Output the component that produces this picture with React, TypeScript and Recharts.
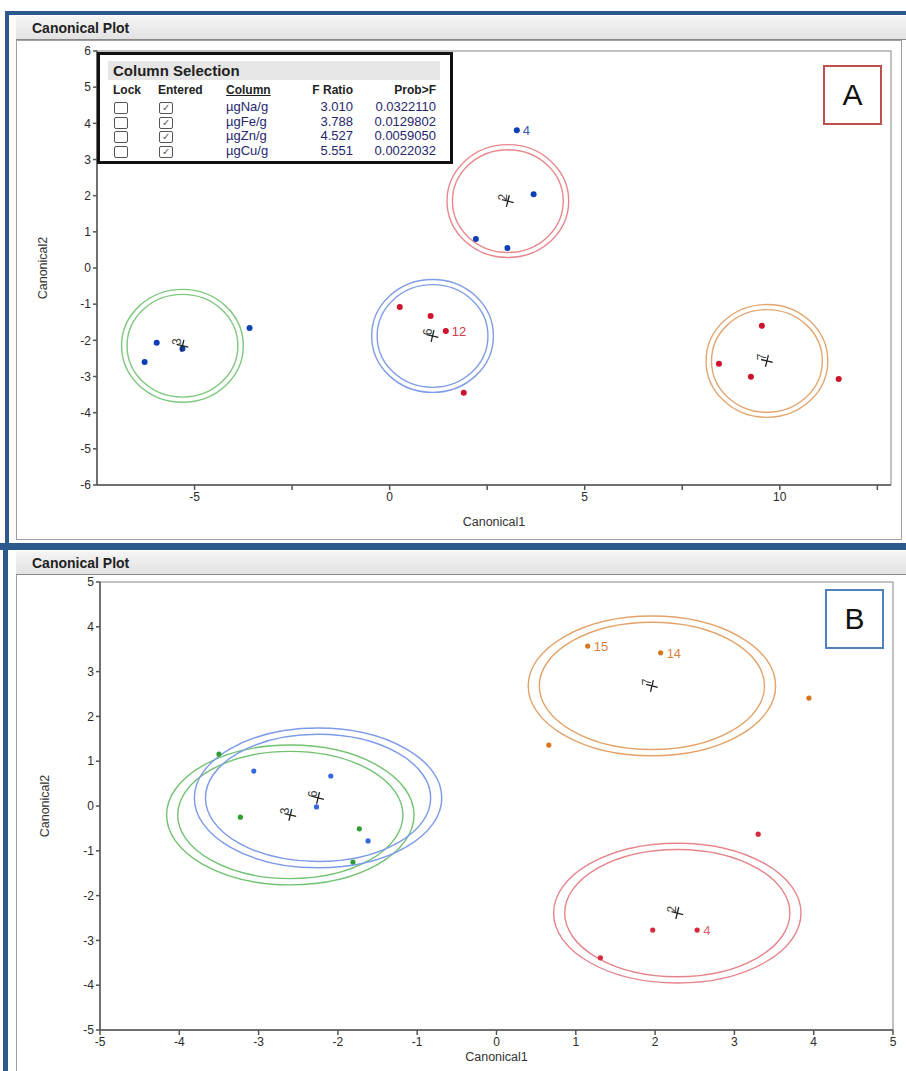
import React from "react";
import { ScatterChart, Scatter, XAxis, YAxis, ReferenceArea } from "recharts";

// ---- Panel A ----
const aBlue = [
  { x: 3.26, y: 3.81, label: "4" },
  { x: 3.69, y: 2.04 },
  { x: 2.21, y: 0.8 },
  { x: 3.02, y: 0.55 },
  { x: -3.59, y: -1.66 },
  { x: -5.97, y: -2.07 },
  { x: -6.28, y: -2.6 },
  { x: -5.31, y: -2.23 },
];
const aRed = [
  { x: 0.26, y: -1.08 },
  { x: 1.05, y: -1.33 },
  { x: 1.44, y: -1.74, label: "12" },
  { x: 1.9, y: -3.45 },
  { x: 9.54, y: -1.6 },
  { x: 8.44, y: -2.65 },
  { x: 9.26, y: -3.01 },
  { x: 11.51, y: -3.07 },
];
const aCenters = [
  { x: -5.31, y: -2.15, label: "3" },
  { x: 1.1, y: -1.88, label: "6" },
  { x: 3.03, y: 1.85, label: "2" },
  { x: 9.67, y: -2.57, label: "7" },
];
const aRingColors = ["#7cc87c", "#7f9de6", "#e8878d", "#e4a670"];
const aXTicks = [-5, -2.5, 0, 2.5, 5, 7.5, 10, 12.5];
const aYTicks = [-6, -5, -4, -3, -2, -1, 0, 1, 2, 3, 4, 5, 6];

// ---- Panel B ----
const bGreen = [
  { x: -3.5, y: 1.16 },
  { x: -3.23, y: -0.25 },
  { x: -1.73, y: -0.51 },
  { x: -1.81, y: -1.25 },
];
const bBlue = [
  { x: -3.06, y: 0.78 },
  { x: -2.09, y: 0.67 },
  { x: -2.27, y: -0.02 },
  { x: -1.62, y: -0.78 },
];
const bOrange = [
  { x: 1.15, y: 3.57, label: "15" },
  { x: 2.07, y: 3.42, label: "14" },
  { x: 3.94, y: 2.41 },
  { x: 0.66, y: 1.36 },
];
const bRed = [
  { x: 3.3, y: -0.63 },
  { x: 1.97, y: -2.77 },
  { x: 2.53, y: -2.77, label: "4" },
  { x: 1.31, y: -3.39 },
];
const bCenters = [
  { x: -2.6, y: -0.2, label: "3" },
  { x: -2.25, y: 0.18, label: "6" },
  { x: 1.96, y: 2.68, label: "7" },
  { x: 2.28, y: -2.39, label: "2" },
];
const bRingColors = ["#72c272", "#7b9be8", "#e3a268", "#e6848c"];
const bTicks = [-5, -4, -3, -2, -1, 0, 1, 2, 3, 4, 5];

// confidence ring radii (canonical units)
const ringOuter = 1.56;
const ringInner = 1.42;

const columnRows = [
  { col: "µgNa/g", f: "3.010", p: "0.0322110" },
  { col: "µgFe/g", f: "3.788", p: "0.0129802" },
  { col: "µgZn/g", f: "4.527", p: "0.0059050" },
  { col: "µgCu/g", f: "5.551", p: "0.0022032" },
];

const FONT = "'Liberation Sans', Arial, sans-serif";
const BLUE_FRAME = "#2d5a8c";

const makeDot = (fill: string, r: number, labelColor: string) => (props: any) => {
  const { cx, cy, payload } = props;
  return (
    <g>
      <circle cx={cx} cy={cy} r={r} fill={fill} />
      {payload.label && (
        <text x={cx + 6} y={cy + 5} fontSize={13} fill={labelColor} fontFamily={FONT}>
          {payload.label}
        </text>
      )}
    </g>
  );
};

const CenterMark = (props: any) => {
  const { cx, cy, payload } = props;
  return (
    <g>
      <g transform={`translate(${cx},${cy}) rotate(14)`}>
        <line x1={-6} y1={0} x2={6} y2={0} stroke="#222" strokeWidth={1.3} />
        <line x1={0} y1={-6} x2={0} y2={6} stroke="#222" strokeWidth={1.3} />
      </g>
      <text
        transform={`translate(${cx - 1},${cy - 4}) rotate(-90)`}
        textAnchor="middle"
        fontSize={12}
        fill="#444"
        fontFamily={FONT}
      >
        {payload.label}
      </text>
    </g>
  );
};

const ring = (color: string) => (props: any) => {
  const { x, y, width, height } = props;
  return (
    <ellipse
      cx={x + width / 2}
      cy={y + height / 2}
      rx={Math.abs(width) / 2}
      ry={Math.abs(height) / 2}
      fill="none"
      stroke={color}
      strokeWidth={1.4}
    />
  );
};

const plotFrame = (props: any) => (
  <rect x={props.x} y={props.y} width={props.width} height={props.height} fill="none" stroke="#9a9a9a" strokeWidth={1.2} />
);

const tickStyle = { fontSize: 12, fill: "#2a2a2a", fontFamily: FONT };
const axisStroke = { stroke: "#555", strokeWidth: 1.5 };
const axisLabelStyle = { fontSize: 12.5, fill: "#333", fontFamily: FONT };

function renderRings(centers: { x: number; y: number }[], colors: string[]) {
  const out: any[] = [];
  centers.forEach((c, i) => {
    [ringOuter, ringInner].forEach((r, j) => {
      out.push(
        <ReferenceArea
          key={`ring-${i}-${j}`}
          x1={c.x - r}
          x2={c.x + r}
          y1={c.y - r}
          y2={c.y + r}
          ifOverflow="visible"
          shape={ring(colors[i])}
        />
      );
    });
  });
  return out;
}

function ColumnSelection() {
  const cell = { position: "absolute" as const, fontSize: 13, color: "#26266e", fontFamily: FONT };
  const head = { position: "absolute" as const, fontSize: 12, fontWeight: 700, color: "#222", fontFamily: FONT };
  const box = (left: number, top: number, checked: boolean) => (
    <div
      style={{
        position: "absolute",
        left,
        top,
        width: 12,
        height: 10,
        border: "1.3px solid #555",
        borderRadius: 2,
        fontSize: 10,
        lineHeight: "10px",
        textAlign: "center",
        color: "#555",
      }}
    >
      {checked ? "✓" : ""}
    </div>
  );
  return (
    <div
      style={{
        position: "absolute",
        left: 97,
        top: 52,
        width: 350,
        height: 106,
        border: "3px solid #111",
        background: "#fff",
      }}
    >
      <div
        style={{
          position: "absolute",
          left: 8,
          top: 6,
          width: 332,
          height: 19,
          background: "#e6e6e6",
          fontSize: 15,
          fontWeight: 700,
          color: "#222",
          fontFamily: FONT,
          lineHeight: "19px",
          paddingLeft: 5,
          boxSizing: "border-box",
        }}
      >
        Column Selection
      </div>
      <div style={{ ...head, left: 13, top: 28 }}>Lock</div>
      <div style={{ ...head, left: 58, top: 28 }}>Entered</div>
      <div style={{ ...head, left: 126, top: 28, textDecoration: "underline" }}>Column</div>
      <div style={{ ...head, right: 97, top: 28 }}>F Ratio</div>
      <div style={{ ...head, right: 14, top: 28 }}>Prob&gt;F</div>
      {columnRows.map((r, i) => (
        <React.Fragment key={r.col}>
          {box(14, 47 + i * 14.5, false)}
          {box(59, 47 + i * 14.5, true)}
          <div style={{ ...cell, left: 126, top: 44 + i * 14.5 }}>{r.col}</div>
          <div style={{ ...cell, right: 97, top: 44 + i * 14.5 }}>{r.f}</div>
          <div style={{ ...cell, right: 14, top: 44 + i * 14.5 }}>{r.p}</div>
        </React.Fragment>
      ))}
    </div>
  );
}

function TitleBar({ top }: { top: number }) {
  return (
    <div
      style={{
        position: "absolute",
        left: 16,
        top,
        width: 890,
        height: 24,
        background: "linear-gradient(#f5f5f5, #e2e2e2)",
        borderBottom: "1px solid #8a8a8a",
        boxSizing: "border-box",
        fontFamily: FONT,
        fontWeight: 700,
        fontSize: 14,
        color: "#222",
        lineHeight: "24px",
        paddingLeft: 16,
      }}
    >
      Canonical Plot
    </div>
  );
}

function LetterBox({ left, top, color, letter }: { left: number; top: number; color: string; letter: string }) {
  return (
    <div
      style={{
        position: "absolute",
        left,
        top,
        width: 59,
        height: 60,
        border: `2px solid ${color}`,
        boxSizing: "border-box",
        background: "#fff",
        fontFamily: FONT,
        fontSize: 30,
        textAlign: "center",
        lineHeight: "56px",
        color: "#111",
      }}
    >
      {letter}
    </div>
  );
}

export default function App() {
  return (
    <div style={{ position: "absolute", left: 0, top: 0, width: 906, height: 1071, background: "#fff", overflow: "hidden" }}>
      {/* frames */}
      <div style={{ position: "absolute", left: 5, top: 11, width: 901, height: 4, background: BLUE_FRAME }} />
      <div style={{ position: "absolute", left: 5, top: 11, width: 4, height: 533, background: BLUE_FRAME }} />
      <div style={{ position: "absolute", left: 0, top: 543, width: 906, height: 7, background: BLUE_FRAME }} />
      <div style={{ position: "absolute", left: 3, top: 543, width: 5, height: 528, background: BLUE_FRAME }} />
      <div style={{ position: "absolute", left: 16, top: 40, width: 886, height: 500, border: "1px solid #a0a0a0", boxSizing: "border-box" }} />
      <div style={{ position: "absolute", left: 16, top: 574, width: 900, height: 520, border: "1px solid #a0a0a0", boxSizing: "border-box" }} />
      <TitleBar top={16} />
      <TitleBar top={551} />

      {/* Panel A */}
      <div style={{ position: "absolute", left: 0, top: 0 }}>
        <ScatterChart width={906} height={540} margin={{ top: 51, right: 15, bottom: 25, left: 37 }}>
          <XAxis
            type="number"
            dataKey="x"
            domain={[-7.5, 12.85]}
            allowDataOverflow
            ticks={aXTicks}
            tickFormatter={(v: number) => (v % 5 === 0 ? String(v) : "")}
            tick={tickStyle}
            tickSize={5}
            tickLine={axisStroke}
            axisLine={axisStroke}
            height={30}
            label={{ value: "Canonical1", position: "bottom", offset: 2, style: axisLabelStyle }}
          />
          <YAxis
            type="number"
            dataKey="y"
            domain={[-6, 6]}
            allowDataOverflow
            ticks={aYTicks}
            tick={tickStyle}
            tickSize={4}
            tickLine={axisStroke}
            axisLine={axisStroke}
            width={60}
            interval={0}
            label={{ value: "Canonical2", angle: -90, position: "insideLeft", offset: 6, style: { ...axisLabelStyle, textAnchor: "middle" } }}
          />
          <ReferenceArea x1={-7.5} x2={12.85} y1={-6} y2={6} ifOverflow="visible" shape={plotFrame} />
          {renderRings(aCenters, aRingColors)}
          <Scatter data={aBlue} isAnimationActive={false} shape={makeDot("#0d3fb5", 3, "#3556b8")} />
          <Scatter data={aRed} isAnimationActive={false} shape={makeDot("#d0112b", 3, "#d8344a")} />
          <Scatter data={aCenters} isAnimationActive={false} shape={CenterMark} />
        </ScatterChart>
      </div>
      <ColumnSelection />
      <LetterBox left={823} top={65} color="#c0504d" letter="A" />

      {/* Panel B */}
      <div style={{ position: "absolute", left: 0, top: 546 }}>
        <ScatterChart width={906} height={525} margin={{ top: 36, right: 13, bottom: 21, left: 40 }}>
          <XAxis
            type="number"
            dataKey="x"
            domain={[-5, 5]}
            allowDataOverflow
            ticks={bTicks}
            interval={0}
            tick={tickStyle}
            tickSize={5}
            tickLine={axisStroke}
            axisLine={axisStroke}
            height={20}
            label={{ value: "Canonical1", position: "bottom", offset: 2, style: axisLabelStyle }}
          />
          <YAxis
            type="number"
            dataKey="y"
            domain={[-5, 5]}
            allowDataOverflow
            ticks={bTicks}
            interval={0}
            tick={tickStyle}
            tickSize={4}
            tickLine={axisStroke}
            axisLine={axisStroke}
            width={60}
            label={{ value: "Canonical2", angle: -90, position: "insideLeft", offset: 5, style: { ...axisLabelStyle, textAnchor: "middle" } }}
          />
          <ReferenceArea x1={-5} x2={5} y1={-5} y2={5} ifOverflow="visible" shape={plotFrame} />
          {renderRings(bCenters, bRingColors)}
          <Scatter data={bGreen} isAnimationActive={false} shape={makeDot("#2f9e35", 2.6, "#2f9e35")} />
          <Scatter data={bBlue} isAnimationActive={false} shape={makeDot("#3468e0", 2.6, "#3468e0")} />
          <Scatter data={bOrange} isAnimationActive={false} shape={makeDot("#d8761e", 2.6, "#d8823a")} />
          <Scatter data={bRed} isAnimationActive={false} shape={makeDot("#d7283c", 2.6, "#e06070")} />
          <Scatter data={bCenters} isAnimationActive={false} shape={CenterMark} />
        </ScatterChart>
      </div>
      <LetterBox left={825} top={589} color="#4f81bd" letter="B" />
    </div>
  );
}
